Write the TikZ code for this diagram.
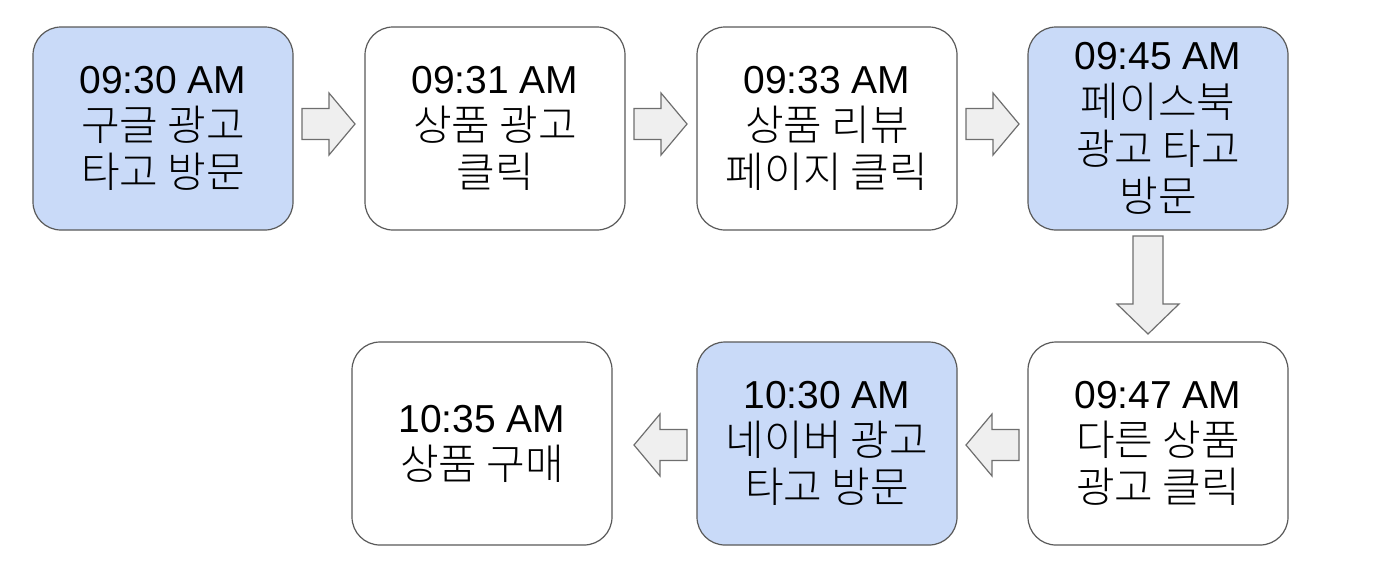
\documentclass[tikz,border=0pt]{standalone}
\usepackage{fontspec}
\setmainfont{Liberation Sans}
\newfontfamily\kr{Noto Sans CJK KR Light}
\definecolor{boxblue}{HTML}{C9DAF8}
\definecolor{boxline}{HTML}{595959}
\definecolor{arrfill}{HTML}{EFEFEF}
\definecolor{arrline}{HTML}{6E6E6E}
\newcommand{\krl}[1]{{\kr\fontsize{21pt}{23.6pt}\selectfont #1}}
\begin{document}
\begin{tikzpicture}[x=0.5pt,y=-0.5pt,
  card/.style={draw=boxline, line width=0.6pt, rounded corners=14pt,
    minimum width=130pt, minimum height=101.5pt, align=center, inner sep=0pt,
    font=\fontsize{19.5pt}{23.6pt}\selectfont},
  bluecard/.style={card, fill=boxblue},
  whitecard/.style={card, fill=white},
  blockarrow/.style={draw=arrline, fill=arrfill, line width=0.6pt, line join=miter},
  hbarrow/.pic={\draw[blockarrow] (0,-15.5) -- (27,-15.5) -- (27,-31) -- (53,0) -- (27,31) -- (27,15.5) -- (0,15.5) -- cycle;}
]
\useasboundingbox (0,0) rectangle (1380,564);
\node[bluecard]  (b1) at (163,128.5) {09:30 AM\\\krl{구글 광고}\\\krl{타고 방문}};
\node[whitecard] (b2) at (495,128.5) {09:31 AM\\\krl{상품 광고}\\\krl{클릭}};
\node[whitecard] (b3) at (827,128.5) {09:33 AM\\\krl{상품 리뷰}\\\krl{페이지 클릭}};
\node[bluecard]  (b4) at (1158,128.5) {09:45 AM\\\krl{페이스북}\\\krl{광고 타고}\\\krl{방문}};
\node[whitecard] (b5) at (1158,443.5) {09:47 AM\\\krl{다른 상품}\\\krl{광고 클릭}};
\node[bluecard]  (b6) at (827,443.5) {10:30 AM\\\krl{네이버 광고}\\\krl{타고 방문}};
\node[whitecard] (b7) at (482,443.5) {10:35 AM\\\krl{상품 구매}};
% block arrows
\pic at (302,124) {hbarrow};
\pic at (634,124) {hbarrow};
\pic at (966,124) {hbarrow};
\pic[rotate=180] at (1019,445) {hbarrow};
\pic[rotate=180] at (687,445) {hbarrow};
\draw[blockarrow] (1133,236) -- (1163,236) -- (1163,304) -- (1179,304) -- (1148,334) -- (1117,304) -- (1133,304) -- cycle;
\end{tikzpicture}
\end{document}
